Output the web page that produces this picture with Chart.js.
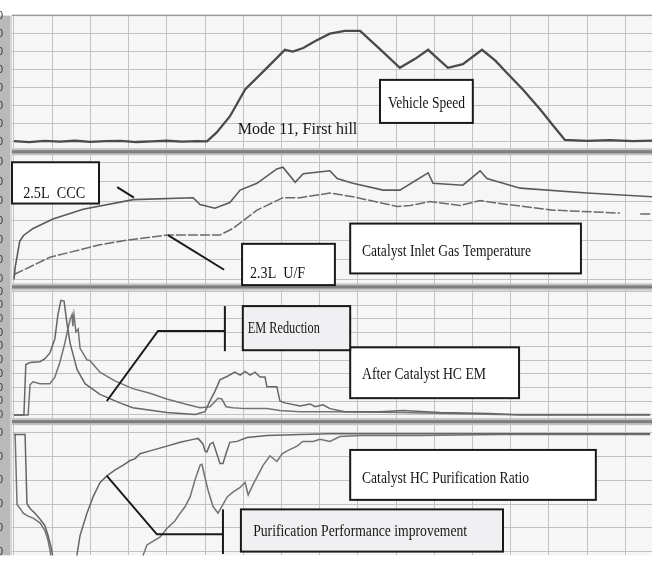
<!DOCTYPE html>
<html>
<head>
<meta charset="utf-8">
<script src="https://cdn.jsdelivr.net/npm/chart.js@4.4.1/dist/chart.umd.min.js"></script>
<style>
  html, body { margin: 0; padding: 0; background: #fff; }
  #wrap { width: 652px; height: 571px; position: relative; }
  canvas { display: block; }
</style>
</head>
<body>
<div id="wrap"><canvas id="c" width="652" height="571"></canvas></div>
<script>
// Mode 11, first hill: time base in seconds for every trace

// Vehicle speed [km/h]
const speedTime = [0, 40, 80, 120, 160, 200, 240, 280, 320, 360, 400, 440, 480, 505, 530, 565, 605, 662, 709, 730, 757, 790, 827, 866, 906, 960, 1010, 1050, 1084, 1110, 1136, 1175, 1225, 1260, 1291, 1332, 1377, 1410, 1442, 1500, 1560, 1620, 1670];
const speedKmh  = [0.3, -0.2, 0.4, 0, 0.5, -0.1, 0.3, 0.4, -0.2, 0.2, 0.5, 0, 0.3, 0.2, 5, 14, 29, 41, 51, 50, 52, 56, 60, 61.5, 61.5, 51, 41, 46, 51, 46, 41, 43, 51, 45, 38, 29, 18, 9.3, 1, 0.4, 0.8, 0.3, 0.6];

// Catalyst inlet gas temperature [deg C]
const tempTimeCCC = [0, 3, 15, 25, 50, 102, 181, 312, 469, 487, 526, 565, 592, 636, 688, 704, 736, 757, 827, 846, 887, 966, 1010, 1084, 1097, 1175, 1220, 1238, 1325, 1500, 1670];
const tempCCC     = [0, 60, 195, 225, 261, 310, 360, 409, 419, 384, 365, 394, 458, 493, 567, 576, 498, 542, 557, 517, 493, 458, 458, 547, 493, 483, 557, 517, 468, 443, 424];
const tempTimeUF  = [0, 3, 94, 225, 300, 401, 539, 573, 636, 704, 749, 827, 887, 1003, 1037, 1089, 1168, 1220, 1291, 1411, 1586, 1600, 1639, 1670];
const tempUF      = [25, 27, 113, 177, 202, 227, 227, 261, 355, 419, 419, 443, 424, 374, 379, 399, 379, 404, 384, 355, 340, null, 335, 335];

// After-catalyst HC emission [ppm]
const hcTimeA = [0, 26, 31, 42, 68, 81, 94, 107, 115, 123, 131, 139, 147, 165, 186, 225, 277, 311, 400, 474, 500, 513, 526, 539, 560, 578, 592, 605, 618, 631, 644, 657, 662, 688, 696, 709, 749, 775, 788, 809, 827, 866, 958, 1018, 1115, 1246, 1324, 1665];
const hcA     = [0, 0, 1840, 1910, 1940, 2050, 2260, 2780, 3660, 4180, 4150, 3310, 2610, 1660, 1140, 750, 440, 260, 90, 20, 120, 510, 860, 1280, 1420, 1560, 1450, 1590, 1450, 1560, 1380, 1380, 1030, 1030, 510, 440, 330, 400, 300, 370, 230, 120, 120, 160, 90, 50, 0, 0];
const hcTimeB = [0, 37, 42, 50, 68, 94, 107, 120, 133, 141, 147, 152, 154, 157, 162, 168, 173, 191, 199, 225, 264, 311, 356, 400, 448, 487, 513, 534, 544, 555, 573, 605, 662, 696, 749, 827, 1010, 1272, 1665];
const hcB     = [0, 0, 1100, 1210, 1140, 1140, 1380, 1910, 2610, 3130, 3480, 3660, 3240, 3660, 3030, 3130, 2430, 2010, 1980, 1560, 1240, 960, 790, 580, 400, 260, 300, 610, 580, 300, 260, 230, 230, 160, 120, 120, 90, 20, 20];

// Catalyst HC purification ratio [%]
const purTimeCCC = [0, 29, 34, 42, 55, 68, 81, 89, 97, 105, 160, 165, 173, 191, 207, 225, 243, 264, 285, 304, 317, 330, 356, 400, 435, 469, 482, 495, 500, 505, 513, 521, 531, 539, 547, 555, 565, 584, 610, 662, 749, 827, 906, 1063, 1220, 1351, 1665];
const purCCC     = [98.4, 98.4, 40.3, 36.3, 32.3, 27.4, 21.8, 13.7, 4, -10, -10, -2.4, 13.7, 32.3, 46, 58, 63.7, 68.5, 72.6, 76.6, 78.2, 82.3, 84.7, 88.7, 91.9, 94.4, 95.2, 90.3, 84.7, 83.9, 90.3, 91.9, 82.3, 74.2, 74.2, 82.3, 91.9, 92.7, 96, 97.6, 98.4, 99.2, 99.2, 99.2, 99.2, 99.2, 99.2];
const purTimeUF  = [0, 3, 8, 16, 24, 37, 50, 68, 81, 89, 94, 99, 330, 348, 369, 382, 400, 421, 435, 448, 461, 474, 487, 492, 500, 508, 521, 534, 544, 558, 573, 592, 605, 613, 626, 639, 652, 670, 688, 702, 715, 741, 756, 783, 801, 827, 853, 906, 1063, 1272, 1665];
const purUF      = [98.4, 98.4, 39.5, 36.3, 32.3, 29.8, 28.2, 24.2, 17.7, 9.7, 1.6, -10, -10, 5.6, 9.7, 12.1, 19.4, 25.8, 32.3, 37.9, 46, 60.5, 72.6, 73.4, 62.1, 51.6, 37.9, 32.3, 37.9, 46, 50, 54, 58.1, 47.6, 56.5, 64.5, 72.6, 80.6, 75.8, 82.3, 84.7, 88.7, 92.7, 92.7, 94.4, 92.7, 96.8, 97.6, 97.6, 98.4, 98.4];

// Axis ticks per panel
const speedTicks = [0, 10, 20, 30, 40, 50, 60, 70];
const tempTicks  = [0, 100, 200, 300, 400, 500, 600];
const hcTicks    = [0, 500, 1000, 1500, 2000, 2500, 3000, 3500, 4000, 4500];
const purTicks   = [0, 20, 40, 60, 80, 100];
const timeTicks  = [0, 100, 200, 300, 400, 500, 600, 700, 800, 900, 1000, 1100, 1200, 1300, 1400, 1500, 1600];

const pts = (xs, ys) => xs.map((x, i) => ({ x, y: ys[i] }));

const gridColor = '#c2c2c2';
const serif = '"Liberation Serif", "Times New Roman", serif';

function panelAxis(min, max, tickValues, weight) {
  return {
    type: 'linear', position: 'left', stack: 'panels', stackWeight: weight,
    min, max,
    afterFit(s) { s.width = 12; },
    afterBuildTicks(s) { s.ticks = tickValues.map(v => ({ value: v })); },
    border: { display: false },
    grid: { color: gridColor, drawTicks: false, lineWidth: 1 },
    ticks: {
      autoSkip: false, padding: 9,
      color: '#3a3a3a', font: { family: 'Liberation Sans', size: 11 }
    }
  };
}

// Text boxes and leader lines, positioned in each panel's own units
const boxes = [
  { axis: 'yS', t1: 958, t2: 1201, v1: 34.3, v2: 10.4, fill: '#ffffff', text: 'Vehicle Speed', tx: 979, tv: 18.9, w: 77 },
  { axis: 'yT', t1: -5.2, t2: 222.5, v1: 601, v2: 389, fill: '#ffffff', text: '2.5L  CCC', tx: 24, tv: 419, w: 62 },
  { axis: 'yT', t1: 597, t2: 840, v1: 182, v2: -30, fill: '#ffffff', text: '2.3L  U/F', tx: 618, tv: 5, w: 55 },
  { axis: 'yT', t1: 880, t2: 1484, v1: 286, v2: 30, fill: '#ffffff', text: 'Catalyst Inlet Gas Temperature', tx: 911, tv: 118, w: 169 },
  { axis: 'yH', t1: 880, t2: 1322, v1: 2465, v2: 612, fill: '#ffffff', text: 'After Catalyst HC EM', tx: 911, tv: 1311, w: 124 },
  { axis: 'yH', t1: 599, t2: 880, v1: 3969, v2: 2360, fill: '#f0f0f2', text: 'EM Reduction', tx: 612, tv: 2990, w: 72 },
  { axis: 'yP', t1: 880, t2: 1523, v1: 85.5, v2: 43.5, fill: '#ffffff', text: 'Catalyst HC Purification Ratio', tx: 911, tv: 58, w: 167 },
  { axis: 'yP', t1: 594, t2: 1280, v1: 35.5, v2: 0, fill: '#f0f0f2', text: 'Purification Performance improvement', tx: 626, tv: 13.5, w: 214 }
];
const freeTexts = [
  { axis: 'yS', text: 'Mode 11, First hill', tx: 586, tv: 4.3, w: 122 }
];
const leaders = [
  { axis: 'yT', path: [[270, 473], [314, 419]] },
  { axis: 'yT', path: [[403, 227], [550, 49]] },
  { axis: 'yH', path: [[243, 507], [377, 3060], [552, 3060]] },
  { axis: 'yH', path: [[552, 3969], [552, 2325]] },
  { axis: 'yP', path: [[243, 63.7], [374, 14.5], [547, 14.5]] },
  { axis: 'yP', path: [[547, 35.5], [547, -2]] }
];

const panelDecor = {
  id: 'panelDecor',
  beforeDraw(chart) {
    const { ctx, chartArea: a } = chart;
    ctx.save();
    ctx.fillStyle = '#ffffff';
    ctx.fillRect(0, 0, chart.width, chart.height);
    ctx.fillStyle = '#f6f6f6';
    ctx.fillRect(a.left, a.top, a.right - a.left, a.bottom - a.top);
    // grey strip behind the value axis
    ctx.fillStyle = '#b9b9b9';
    ctx.fillRect(0, a.top, 10, a.bottom - a.top);
    ctx.fillStyle = '#d6d6d6';
    ctx.fillRect(10, a.top, 2, a.bottom - a.top);
    ctx.restore();
  },
  afterDatasetsDraw(chart) {
    const { ctx, chartArea: a, scales } = chart;
    const X = scales.x;
    ctx.save();
    // top frame line
    ctx.fillStyle = '#9a9a9a';
    ctx.fillRect(a.left, a.top - 1, a.right - a.left, 1.5);
    // panel separators
    for (const id of ['yS', 'yT', 'yH']) {
      const yb = scales[id].bottom;
      ctx.fillStyle = '#c2c2c2';
      ctx.fillRect(a.left, yb - 3.5, a.right - a.left, 7);
      ctx.fillStyle = '#7e7e7e';
      ctx.fillRect(a.left, yb - 1.5, a.right - a.left, 3);
    }
    // leader lines
    ctx.strokeStyle = '#1a1a1a';
    ctx.lineWidth = 2;
    for (const l of leaders) {
      const Y = scales[l.axis];
      ctx.beginPath();
      l.path.forEach(([t, v], i) => {
        const px = X.getPixelForValue(t), py = Y.getPixelForValue(v);
        if (i === 0) ctx.moveTo(px, py); else ctx.lineTo(px, py);
      });
      ctx.stroke();
    }
    // labelled boxes
    ctx.font = '16px ' + serif;
    ctx.textBaseline = 'alphabetic';
    ctx.textAlign = 'left';
    for (const b of boxes) {
      const Y = scales[b.axis];
      const x1 = X.getPixelForValue(b.t1), x2 = X.getPixelForValue(b.t2);
      const y1 = Y.getPixelForValue(b.v1), y2 = Y.getPixelForValue(b.v2);
      ctx.fillStyle = b.fill;
      ctx.fillRect(x1, y1, x2 - x1, y2 - y1);
      ctx.strokeStyle = '#1a1a1a';
      ctx.lineWidth = 2;
      ctx.strokeRect(x1, y1, x2 - x1, y2 - y1);
      ctx.fillStyle = '#161616';
      ctx.fillText(b.text, X.getPixelForValue(b.tx), Y.getPixelForValue(b.tv), b.w);
    }
    for (const f of freeTexts) {
      const Y = scales[f.axis];
      ctx.fillStyle = '#161616';
      ctx.fillText(f.text, X.getPixelForValue(f.tx), Y.getPixelForValue(f.tv), f.w);
    }
    ctx.restore();
  }
};

new Chart(document.getElementById('c'), {
  type: 'line',
  data: {
    datasets: [
      { label: 'Vehicle Speed', data: pts(speedTime, speedKmh), yAxisID: 'yS', borderColor: '#4a4a4a', borderWidth: 2.3 },
      { label: '2.5L CCC', data: pts(tempTimeCCC, tempCCC), yAxisID: 'yT', borderColor: '#5a5a5a', borderWidth: 1.6 },
      { label: '2.3L U/F', data: pts(tempTimeUF, tempUF), yAxisID: 'yT', borderColor: '#6a6a6a', borderWidth: 1.5, borderDash: [10, 2], spanGaps: false },
      { label: '2.5L CCC HC', data: pts(hcTimeA, hcA), yAxisID: 'yH', borderColor: '#666666', borderWidth: 1.5 },
      { label: '2.3L U/F HC', data: pts(hcTimeB, hcB), yAxisID: 'yH', borderColor: '#737373', borderWidth: 1.5 },
      { label: '2.5L CCC ratio', data: pts(purTimeCCC, purCCC), yAxisID: 'yP', borderColor: '#666666', borderWidth: 1.5 },
      { label: '2.3L U/F ratio', data: pts(purTimeUF, purUF), yAxisID: 'yP', borderColor: '#737373', borderWidth: 1.5 }
    ]
  },
  options: {
    responsive: false,
    animation: false,
    devicePixelRatio: 1,
    layout: { padding: { top: 8, left: 0, right: 0, bottom: 0 } },
    plugins: { legend: { display: false }, tooltip: { enabled: false } },
    elements: { point: { radius: 0 }, line: { tension: 0, fill: false } },
    scales: {
      x: {
        type: 'linear', position: 'bottom', min: -5.2, max: 1670,
        afterFit(s) { s.height = 0; },
        afterBuildTicks(s) { s.ticks = timeTicks.map(v => ({ value: v })); },
        border: { display: false },
        grid: { color: gridColor, drawTicks: false },
        ticks: { display: false }
      },
      // stacked panels are laid out bottom-up in declaration order
      yP: panelAxis(-3.2, 109.3, purTicks, 139.5),
      yH: panelAxis(-245, 4668, hcTicks, 140.5),
      yT: panelAxis(-39.4, 655, tempTicks, 141),
      yS: panelAxis(-5.6, 70, speedTicks, 142)
    }
  },
  plugins: [panelDecor]
});
</script>
</body>
</html>
